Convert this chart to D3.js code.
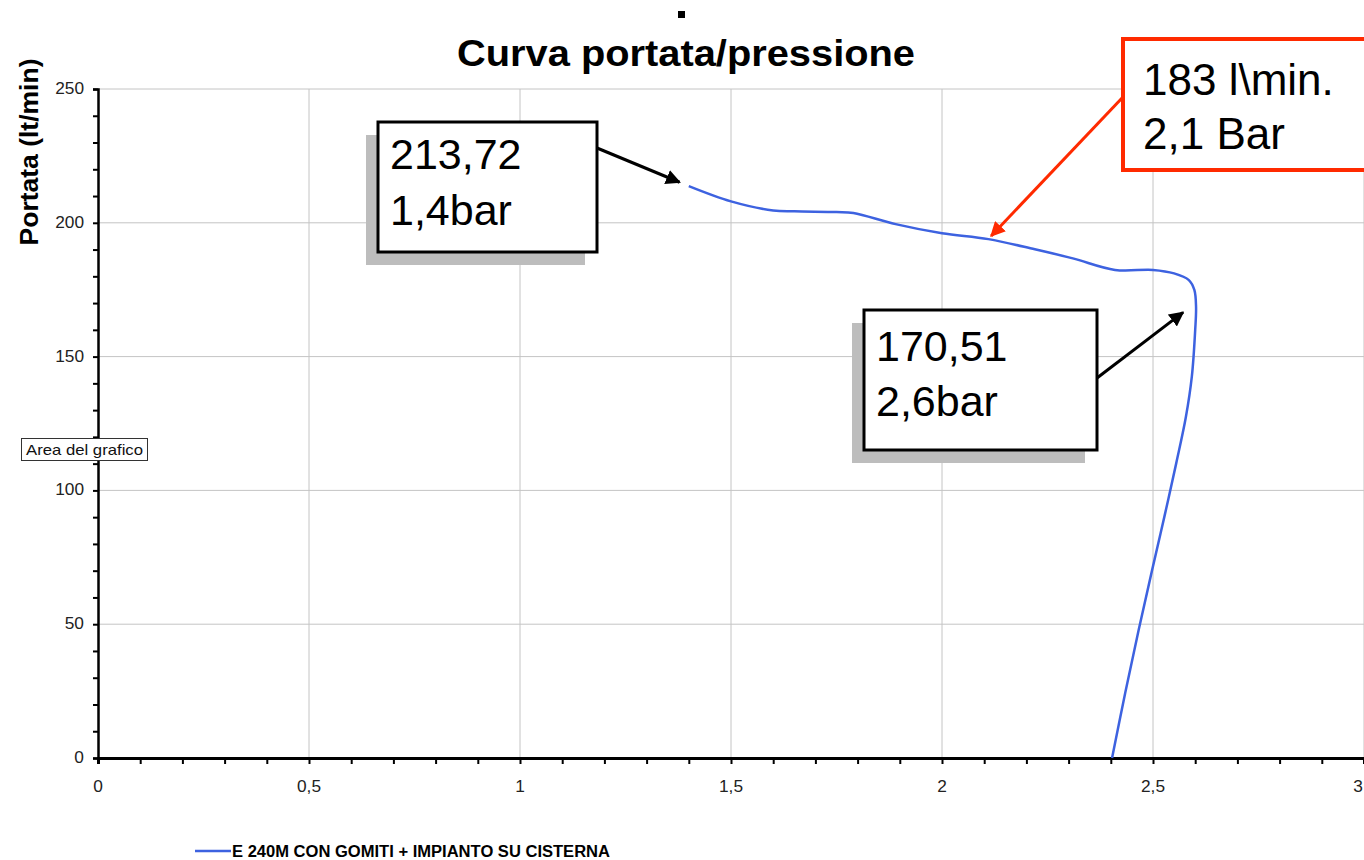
<!DOCTYPE html>
<html lang="it">
<head>
    <meta charset="UTF-8">
    <title>Curva portata/pressione</title>
    <style>
        body, html {
            margin: 0;
            padding: 0;
            background: #fff;
            overflow: hidden;
            font-family: Arial, "Liberation Sans", sans-serif;
        }
        .tick-label {
            font-family: Arial, "Liberation Sans", sans-serif;
            font-size: 16px;
            fill: #222;
        }
        .note {
            font-family: Arial, "Liberation Sans", sans-serif;
            fill: #000;
        }
    </style>
</head>
<body>
    <svg id="chart" width="1364" height="860"></svg>

    <script src="https://cdnjs.cloudflare.com/ajax/libs/d3/7.8.5/d3.min.js"></script>
    <script>
        // pressione (bar) / portata (lt/min)
        const pressione = [1.40, 1.50, 1.60, 1.65, 1.75, 1.79, 1.89, 2.00, 2.11, 2.22, 2.31, 2.41, 2.50, 2.55, 2.585, 2.598, 2.602, 2.600, 2.592, 2.578, 2.555, 2.527, 2.498, 2.466, 2.434, 2.403];
        const portata   = [213.7, 208.0, 204.6, 204.3, 204.0, 203.7, 199.5, 196.1, 193.9, 190.1, 186.7, 182.4, 182.4, 181.1, 178.6, 174.9, 168.6, 160.0, 142.5, 127.5, 110.1, 90.2, 70.3, 47.8, 24.2, 0];

        const seriesName = "E 240M CON GOMITI + IMPIANTO SU CISTERNA";
        const xMajor = [0, 0.5, 1, 1.5, 2, 2.5, 3];
        const yMajor = [0, 50, 100, 150, 200, 250];

        const notes = [
            { lines: ["213,72", "1,4bar"], at: [1.40, 213.72] },
            { lines: ["170,51", "2,6bar"], at: [2.575, 167] },
            { lines: ["183 l\\min.", "2,1 Bar"], at: [2.11, 194] }
        ];

        const svg = d3.select("#chart");
        const W = 1364, H = 860;
        const mLeft = 98, mTop = 89, mBottom = 758, mRight = 1364;

        const x = d3.scaleLinear().domain([0, 3]).range([mLeft, mRight]);
        const y = d3.scaleLinear().domain([0, 250]).range([mBottom, mTop]);
        const fmt = d => String(d).replace(".", ",");

        svg.append("rect").attr("width", W).attr("height", H).attr("fill", "#fff");

        const defs = svg.append("defs");
        [["arrowK", "#000"], ["arrowR", "#ff2a00"]].forEach(([id, c]) => {
            defs.append("marker")
                .attr("id", id)
                .attr("viewBox", "0 0 10 10")
                .attr("refX", 9).attr("refY", 5)
                .attr("markerWidth", 5).attr("markerHeight", 5)
                .attr("markerUnits", "strokeWidth")
                .attr("orient", "auto")
                .append("path")
                .attr("d", "M0,0 L10,5 L0,10 Z")
                .attr("fill", c);
        });

        // stretch text horizontally like the Excel screen font
        function stretch(sel, k) {
            sel.each(function() {
                const w = this.getComputedTextLength();
                d3.select(this).attr("textLength", w * k).attr("lengthAdjust", "spacingAndGlyphs");
            });
        }

        // griglia
        svg.append("g").selectAll("line")
            .data(yMajor.filter(d => d > 0))
            .enter().append("line")
            .attr("x1", mLeft).attr("x2", mRight)
            .attr("y1", d => y(d)).attr("y2", d => y(d))
            .attr("stroke", "#c4c4c4").attr("stroke-width", 1);
        svg.append("g").selectAll("line")
            .data(xMajor.filter(d => d > 0))
            .enter().append("line")
            .attr("x1", d => x(d)).attr("x2", d => x(d))
            .attr("y1", mTop).attr("y2", mBottom)
            .attr("stroke", "#c4c4c4").attr("stroke-width", 1);

        // assi
        const xAxis = d3.axisBottom(x).tickValues(d3.range(0, 31).map(i => i / 10)).tickSize(6).tickFormat("");
        const gx = svg.append("g").attr("transform", `translate(0,${mBottom})`).call(xAxis);
        gx.select(".domain").attr("stroke", "#000").attr("stroke-width", 3);
        gx.selectAll(".tick line").attr("stroke", "#000").attr("stroke-width", 2);

        svg.append("g").selectAll("text")
            .data(xMajor)
            .enter().append("text")
            .attr("class", "tick-label")
            .attr("x", d => d === 3 ? 1358 : x(d)).attr("y", 792)
            .attr("text-anchor", "middle")
            .text(fmt)
            .call(stretch, 1.08);

        const yAxis = d3.axisLeft(y).tickValues(d3.range(0, 26).map(i => i * 10)).tickSize(5).tickFormat("");
        const gy = svg.append("g").attr("transform", `translate(${mLeft},0)`).call(yAxis);
        gy.select(".domain").attr("stroke", "#000").attr("stroke-width", 2.5);
        gy.selectAll(".tick line").attr("stroke", "#000").attr("stroke-width", 2);

        svg.append("g").selectAll("text")
            .data(yMajor)
            .enter().append("text")
            .attr("class", "tick-label")
            .attr("x", 84).attr("y", d => y(d) + 5)
            .attr("text-anchor", "end")
            .text(d => d)
            .call(stretch, 1.08);

        // curva
        const line = d3.line()
            .x((d, i) => x(pressione[i]))
            .y(d => y(d))
            .curve(d3.curveCatmullRom.alpha(0.5));
        svg.append("path")
            .attr("d", line(portata))
            .attr("fill", "none")
            .attr("stroke", "#3d62e0")
            .attr("stroke-width", 2.5);

        // titoli
        svg.append("rect").attr("x", 678).attr("y", 11).attr("width", 7).attr("height", 7).attr("fill", "#000");
        svg.append("text")
            .attr("x", 686).attr("y", 66)
            .attr("text-anchor", "middle")
            .attr("font-size", 37).attr("font-weight", "bold")
            .attr("textLength", 458).attr("lengthAdjust", "spacingAndGlyphs")
            .text("Curva portata/pressione");

        svg.append("text")
            .attr("transform", "translate(38,152) rotate(-90)")
            .attr("text-anchor", "middle")
            .attr("font-size", 26.5).attr("font-weight", "bold")
            .text("Portata (lt/min)");

        // etichetta "Area del grafico"
        svg.append("rect").attr("x", 21.5).attr("y", 438.5).attr("width", 126).attr("height", 22)
            .attr("fill", "#fff").attr("stroke", "#333").attr("stroke-width", 1);
        svg.append("text").attr("x", 26).attr("y", 455).attr("font-size", 15).attr("fill", "#111")
            .attr("textLength", 117).attr("lengthAdjust", "spacingAndGlyphs")
            .text("Area del grafico");

        // legenda
        svg.append("line").attr("x1", 195).attr("x2", 231).attr("y1", 851).attr("y2", 851)
            .attr("stroke", "#3d62e0").attr("stroke-width", 2.5);
        svg.append("text")
            .attr("x", 232).attr("y", 857)
            .attr("font-size", 16).attr("font-weight", "bold")
            .attr("textLength", 378).attr("lengthAdjust", "spacingAndGlyphs")
            .text(seriesName);

        // box annotazioni
        const boxes = [
            { box: [378, 122, 219, 130], shadow: true, stroke: "#000", from: [597, 148], textX: 390, base: [169, 225], size: 43 },
            { box: [864, 310, 233, 140], shadow: true, stroke: "#000", from: [1097, 378], textX: 876, base: [361, 416], size: 43 },
            { box: [1123, 39, 250, 131], shadow: false, stroke: "#ff2a00", from: [1123, 97], textX: 1143, base: [95, 149], size: 44 }
        ];

        boxes.forEach((b, i) => {
            const [bx, by, bw, bh] = b.box;
            const n = notes[i];
            if (b.shadow) {
                svg.append("rect").attr("x", bx - 12).attr("y", by + 13).attr("width", bw).attr("height", bh)
                    .attr("fill", "#bdbdbd");
            }
            svg.append("rect").attr("x", bx).attr("y", by).attr("width", bw).attr("height", bh)
                .attr("fill", "#fff").attr("stroke", b.stroke).attr("stroke-width", i === 2 ? 4 : 3);
            n.lines.forEach((t, k) => {
                svg.append("text").attr("class", "note")
                    .attr("font-size", b.size)
                    .attr("x", b.textX).attr("y", b.base[k])
                    .text(t);
            });
            const tx = x(n.at[0]), ty = y(n.at[1]);
            const dx = tx - b.from[0], dy = ty - b.from[1];
            const len = Math.hypot(dx, dy);
            const gap = i === 1 ? 2 : (i === 2 ? 4 : 10);
            svg.append("line")
                .attr("x1", b.from[0]).attr("y1", b.from[1])
                .attr("x2", tx - dx / len * gap).attr("y2", ty - dy / len * gap)
                .attr("stroke", i === 2 ? "#ff2a00" : "#000")
                .attr("stroke-width", 3)
                .attr("marker-end", i === 2 ? "url(#arrowR)" : "url(#arrowK)");
        });
    </script>
</body>
</html>
